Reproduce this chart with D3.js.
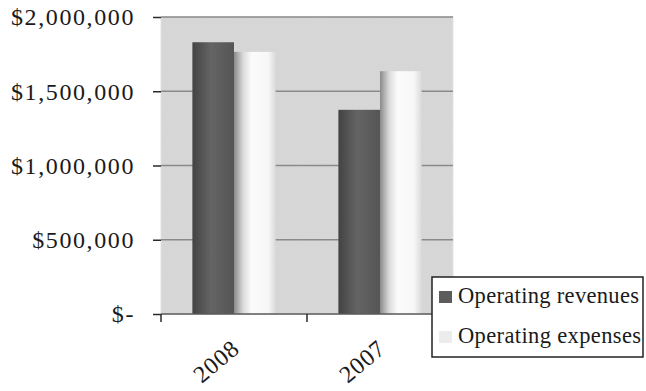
<!DOCTYPE html>
<html>
<head>
<meta charset="utf-8">
<script src="https://cdn.jsdelivr.net/npm/d3@7"></script>
<style>
  html, body { margin: 0; padding: 0; background: #fff; }
  svg { display: block; }
  text { font-family: "Liberation Serif", "Times New Roman", serif; fill: #1a1a1a; }
</style>
</head>
<body>
<svg id="chart" width="646" height="391"></svg>
<script>
// Operating revenues vs. expenses by fiscal year
const years = ["2008", "2007"];
const seriesNames = ["Operating revenues", "Operating expenses"];
const revenues = [1830000, 1375000];
const expenses = [1765000, 1635000];
const yTicks = [0, 500000, 1000000, 1500000, 2000000];
const yTickLabels = ["$-", "$500,000", "$1,000,000", "$1,500,000", "$2,000,000"];

const svg = d3.select("#chart");
const plot = { left: 161, right: 453, top: 17, bottom: 314 };

const x0 = d3.scaleBand().domain(years).range([plot.left, plot.right])
  .paddingInner(0.43).paddingOuter(0.215);
const x1 = d3.scaleBand().domain(seriesNames).range([0, x0.bandwidth()]);
const y = d3.scaleLinear().domain([0, 2000000]).range([plot.bottom, plot.top]);

const defs = svg.append("defs");
const gRev = defs.append("linearGradient").attr("id", "gradRev");
[[0, "#434343"], [0.45, "#646464"], [1, "#555555"]].forEach(([o, c]) =>
  gRev.append("stop").attr("offset", o).attr("stop-color", c));
const gExp = defs.append("linearGradient").attr("id", "gradExp");
[[0, "#8a8a8a"], [0.22, "#dadada"], [0.42, "#fbfbfb"], [0.82, "#f7f7f7"], [1, "#dadada"]].forEach(([o, c]) =>
  gExp.append("stop").attr("offset", o).attr("stop-color", c));

// grain on the plot background
const grain = defs.append("filter").attr("id", "grain")
  .attr("x", 0).attr("y", 0).attr("width", 1).attr("height", 1);
grain.append("feTurbulence").attr("type", "fractalNoise")
  .attr("baseFrequency", 0.9).attr("numOctaves", 2).attr("seed", 3);
grain.append("feColorMatrix").attr("type", "matrix")
  .attr("values", "0 0 0 0 0.5  0 0 0 0 0.5  0 0 0 0 0.5  0 0 0 0.18 0");

// plot area
svg.append("rect")
  .attr("x", plot.left).attr("y", plot.top)
  .attr("width", plot.right - plot.left).attr("height", plot.bottom - plot.top)
  .attr("fill", "#d9d9d9").attr("stroke", "#e4e4e4");
svg.append("rect")
  .attr("x", plot.left).attr("y", plot.top)
  .attr("width", plot.right - plot.left).attr("height", plot.bottom - plot.top)
  .attr("filter", "url(#grain)");

// gridlines
svg.append("g").selectAll("line").data(yTicks.slice(1)).join("line")
  .attr("x1", plot.left).attr("x2", plot.right)
  .attr("y1", d => y(d)).attr("y2", d => y(d))
  .attr("stroke", "#8a8a8a").attr("stroke-width", 1.4);

// bars
const groups = svg.append("g").selectAll("g").data(years).join("g")
  .attr("transform", d => `translate(${x0(d)},0)`);
groups.selectAll("rect")
  .data((d, i) => [
    { s: seriesNames[0], v: revenues[i], fill: "url(#gradRev)" },
    { s: seriesNames[1], v: expenses[i], fill: "url(#gradExp)" }
  ])
  .join("rect")
  .attr("x", d => x1(d.s)).attr("width", x1.bandwidth())
  .attr("y", d => y(d.v)).attr("height", d => y(0) - y(d.v))
  .attr("fill", d => d.fill);

// y axis
const yAxis = d3.axisLeft(y).tickValues(yTicks)
  .tickFormat((d, i) => yTickLabels[i]).tickSize(8).tickPadding(18);
const gy = svg.append("g").attr("transform", `translate(${plot.left},0)`).call(yAxis);
gy.select(".domain").remove();
gy.selectAll(".tick line").attr("stroke", "#2a2a2a").attr("stroke-width", 1.5);
gy.selectAll(".tick text")
  .attr("font-size", 24).attr("letter-spacing", 1.6)
  .attr("font-family", "Liberation Serif, serif").attr("fill", "#1a1a1a")
  .attr("dy", "0.33em");

// x axis
const xAxis = d3.axisBottom(x0).tickSize(0).tickFormat("");
const gx = svg.append("g").attr("transform", `translate(0,${plot.bottom})`).call(xAxis);
gx.select(".domain").attr("stroke", "#5a5a5a").attr("stroke-width", 1.3)
  .attr("d", `M${plot.left},0H${plot.right}`);
const boundaries = [plot.left, plot.left + x0.step()];
gx.selectAll(".bnd").data(boundaries).join("line").attr("class", "bnd")
  .attr("x1", d => d).attr("x2", d => d).attr("y1", 0).attr("y2", 8)
  .attr("stroke", "#2a2a2a").attr("stroke-width", 1.5);

svg.append("g").selectAll("text").data(years).join("text")
  .attr("transform", d => `translate(${x0(d) + x0.bandwidth() / 2 + 7},351) rotate(-40)`)
  .attr("text-anchor", "end")
  .attr("font-size", 24).attr("letter-spacing", 0.8)
  .text(d => d);

// legend
const legend = svg.append("g").attr("transform", "translate(432,277)");
legend.append("rect").attr("width", 211).attr("height", 80)
  .attr("fill", "#fff").attr("stroke", "#222").attr("stroke-width", 1.5);
const markerColors = ["#5c5c5c", "#ececec"];
const items = legend.selectAll("g").data(seriesNames).join("g")
  .attr("transform", (d, i) => `translate(0,${14 + i * 40})`);
items.append("rect").attr("x", 7).attr("width", 13).attr("height", 12)
  .attr("fill", (d, i) => markerColors[i]);
items.append("text").attr("x", 26).attr("y", 12)
  .attr("font-size", 22.5)
  .attr("textLength", (d, i) => i === 0 ? 181 : 183).attr("lengthAdjust", "spacing")
  .text(d => d);
</script>
</body>
</html>
